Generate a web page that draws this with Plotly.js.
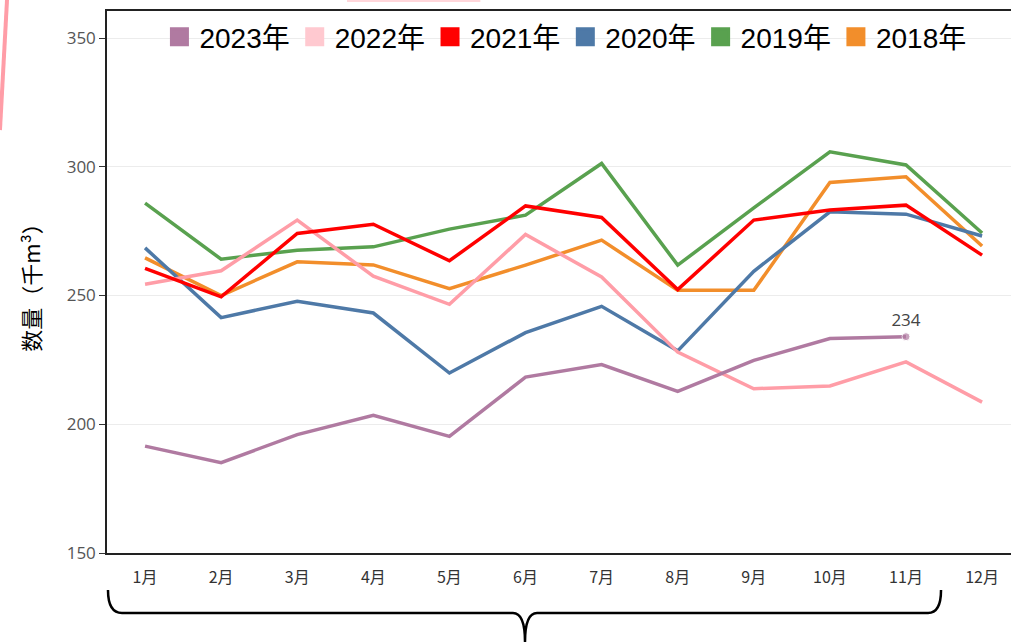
<!DOCTYPE html>
<html>
<head>
<meta charset="utf-8">
<script src="https://cdn.plot.ly/plotly-3.0.1.min.js"></script>
<style>
  html, body { margin: 0; padding: 0; background: #ffffff; }
  #chart { width: 1011px; height: 642px; }
</style>
</head>
<body>
<div id="chart"></div>
<script>
// ---- data ----
const months = ["1月", "2月", "3月", "4月", "5月", "6月", "7月", "8月", "9月", "10月", "11月", "12月"];

const y2023 = [191.5, 185.1, 196.0, 203.5, 195.3, 218.3, 223.2, 212.8, 224.8, 233.3, 234];
const y2022 = [254.4, 259.6, 279.3, 257.5, 246.6, 273.7, 257.2, 228.0, 213.8, 214.9, 224.2, 208.6];
const y2021 = [260.5, 249.5, 274.1, 277.7, 263.5, 284.8, 280.3, 252.3, 279.3, 283.2, 285.1, 265.7];
const y2020 = [268.5, 241.4, 247.8, 243.2, 219.9, 235.6, 245.8, 228.5, 259.4, 282.5, 281.6, 273.1];
const y2019 = [285.9, 264.1, 267.6, 268.9, 275.8, 281.2, 301.3, 261.8, 284.0, 305.8, 300.7, 274.3];
const y2018 = [264.6, 250.0, 263.1, 261.9, 252.7, 261.8, 271.5, 252.0, 252.0, 293.9, 296.1, 269.2];

const seriesNames = ["2023年", "2022年", "2021年", "2020年", "2019年", "2018年"];
const lineColors   = ["#b07aa1", "#ff9da7", "#ff0000", "#4e79a7", "#59a14f", "#f28e2b"];
const legendColors = ["#b07aa1", "#ffc9d0", "#ff0000", "#4e79a7", "#59a14f", "#f28e2b"];
const seriesData   = [y2023, y2022, y2021, y2020, y2019, y2018];

// ---- traces ----
const traces = [];
// draw order (bottom to top)
const drawOrder = [5, 4, 3, 1, 2, 0];
drawOrder.forEach(function (i) {
  const vals = seriesData[i];
  const xs = months.slice(0, vals.length);
  const tr = {
    type: "scatter",
    x: xs,
    y: vals,
    name: seriesNames[i],
    mode: "lines",
    line: { color: lineColors[i], width: 3.5 },
    showlegend: false,
    hoverinfo: "x+y+name"
  };
  if (i === 0) {
    const last = vals.length - 1;
    tr.mode = "lines+markers+text";
    tr.marker = { color: lineColors[i], size: vals.map((v, k) => (k === last ? 8 : 0)) };
    tr.text = vals.map((v, k) => (k === last ? String(Math.round(v)) : ""));
    tr.textposition = "top center";
    tr.textfont = { family: "Open Sans, DejaVu Sans, sans-serif", size: 17, color: "#444444" };
  }
  traces.push(tr);
});

// legend entries (square swatches) in legend order
seriesNames.forEach(function (n, i) {
  traces.push({
    type: "scatter",
    x: [null],
    y: [null],
    name: n,
    mode: "markers",
    marker: { symbol: "square", size: 16, color: legendColors[i], line: { color: legendColors[i], width: 3 } },
    showlegend: true,
    hoverinfo: "skip"
  });
});

const layout = {
  width: 1011,
  height: 642,
  margin: { l: 107, r: 0, t: 11, b: 89 },
  paper_bgcolor: "#ffffff",
  plot_bgcolor: "#ffffff",
  showlegend: true,
  legend: {
    orientation: "h",
    x: 0.058,
    xanchor: "left",
    y: 0.952,
    yanchor: "middle",
    bgcolor: "rgba(255,255,255,0)",
    font: { family: "Liberation Sans, Arial, Noto Sans CJK SC, sans-serif", size: 28, color: "#000000" },
    itemclick: false,
    itemdoubleclick: false
  },
  xaxis: {
    type: "category",
    categoryorder: "array",
    categoryarray: months,
    range: [-0.5, 11.38],
    showgrid: false,
    zeroline: false,
    showline: true,
    mirror: true,
    linecolor: "#222222",
    linewidth: 1.5,
    ticks: "",
    ticklabelstandoff: 9,
    tickfont: { family: "Noto Sans CJK SC, sans-serif", size: 16, color: "#333333" },
    fixedrange: true
  },
  yaxis: {
    range: [150, 360.5],
    tickvals: [150, 200, 250, 300, 350],
    showgrid: true,
    gridcolor: "#ececec",
    gridwidth: 1,
    zeroline: false,
    showline: true,
    mirror: false,
    linecolor: "#222222",
    linewidth: 1.5,
    ticks: "outside",
    ticklen: 6,
    tickcolor: "#333333",
    tickwidth: 1,
    tickfont: { family: "Open Sans, DejaVu Sans, sans-serif", size: 17, color: "#555555" },
    title: {
      text: "数量（千m³）",
      font: { family: "Noto Sans CJK SC, sans-serif", size: 22, color: "#000000" },
      standoff: 20
    },
    fixedrange: true
  },
  shapes: [
    // curly brace under 1月–11月
    {
      type: "path",
      xref: "paper",
      yref: "paper",
      path: "M 0.0011,-0.0683 Q 0.0011,-0.1107 0.0166,-0.1107 L 0.4491,-0.1107 Q 0.4624,-0.1107 0.4624,-0.1642 Q 0.4624,-0.1107 0.4757,-0.1107 L 0.9082,-0.1107 Q 0.9226,-0.1107 0.9226,-0.0683",
      line: { color: "#000000", width: 2.5 },
      fillcolor: "rgba(0,0,0,0)"
    },
    // pink stroke at left edge (decoration)
    {
      type: "line",
      xref: "paper",
      yref: "paper",
      x0: -0.1106, y0: 1.0203,
      x1: -0.1184, y1: 0.7804,
      line: { color: "#ff9da7", width: 4 }
    },
    {
      type: "line",
      xref: "paper",
      yref: "paper",
      x0: 0.2655, y0: 1.0185,
      x1: 0.4130, y1: 1.0185,
      line: { color: "#ffd6da", width: 2 }
    }
  ],
  hovermode: "closest"
};

Plotly.newPlot("chart", traces, layout, { displayModeBar: false, responsive: false });
</script>
</body>
</html>
